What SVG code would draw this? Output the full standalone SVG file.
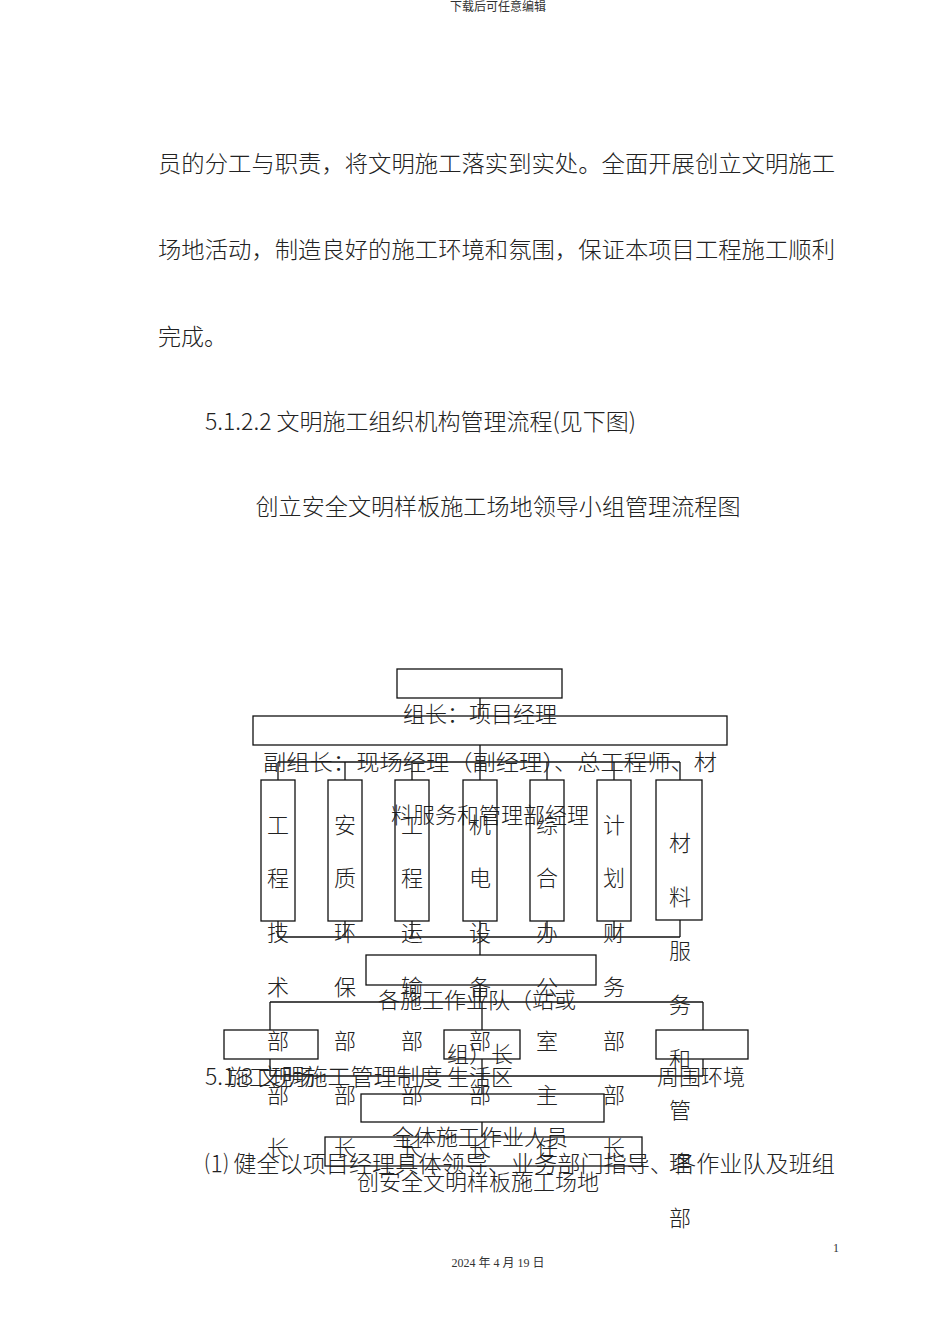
<svg xmlns="http://www.w3.org/2000/svg" width="950" height="1344" viewBox="0 0 950 1344">
<style>
.t{font-family:"Noto Sans CJK SC","Noto Sans",sans-serif;font-size:23px;fill:#222;font-weight:300}
.d{font-family:"Noto Sans CJK SC","Noto Sans",sans-serif;font-size:22px;fill:#222;font-weight:300}
.s{font-family:"Liberation Serif","Noto Sans CJK SC",serif;font-size:12px;fill:#333}
rect{fill:none;stroke:#111;stroke-width:1.3}
line{stroke:#111;stroke-width:1.3}
</style>
<rect x="0" y="0" width="950" height="1344" style="fill:#fff;stroke:none"/>
<text class="s" x="498" y="11" text-anchor="middle">下载后可任意编辑</text>
<text class="t" x="158" y="172" textLength="677" lengthAdjust="spacingAndGlyphs">员的分工与职责，将文明施工落实到实处。全面开展创立文明施工</text>
<text class="t" x="158" y="258" textLength="677" lengthAdjust="spacingAndGlyphs">场地活动，制造良好的施工环境和氛围，保证本项目工程施工顺利</text>
<text class="t" x="158" y="345">完成。</text>
<text class="t" x="205" y="430">5.1.2.2 文明施工组织机构管理流程(见下图)</text>
<text class="t" x="498" y="515" text-anchor="middle" textLength="485" lengthAdjust="spacingAndGlyphs">创立安全文明样板施工场地领导小组管理流程图</text>

<g id="connectors">
<line x1="480" y1="698" x2="480" y2="716"/>
<line x1="480" y1="745" x2="480" y2="762"/>
<line x1="278" y1="762" x2="680" y2="762"/>
<line x1="278" y1="762" x2="278" y2="780"/><line x1="345" y1="762" x2="345" y2="780"/>
<line x1="412" y1="762" x2="412" y2="780"/><line x1="480" y1="762" x2="480" y2="780"/>
<line x1="547" y1="762" x2="547" y2="780"/><line x1="614" y1="762" x2="614" y2="780"/>
<line x1="680" y1="762" x2="680" y2="780"/>
<line x1="278" y1="921" x2="278" y2="937"/><line x1="345" y1="921" x2="345" y2="937"/>
<line x1="412" y1="921" x2="412" y2="937"/><line x1="480" y1="921" x2="480" y2="937"/>
<line x1="547" y1="921" x2="547" y2="937"/><line x1="614" y1="921" x2="614" y2="937"/>
<line x1="680" y1="920" x2="680" y2="937"/>
<line x1="278" y1="937" x2="680" y2="937"/>
<line x1="480" y1="937" x2="480" y2="955"/>
<line x1="480" y1="985" x2="480" y2="1002"/>
<line x1="270" y1="1002" x2="703" y2="1002"/>
<line x1="270" y1="1002" x2="270" y2="1030"/><line x1="482" y1="1002" x2="482" y2="1030"/><line x1="703" y1="1002" x2="703" y2="1030"/>
<line x1="270" y1="1059" x2="270" y2="1076"/><line x1="482" y1="1059" x2="482" y2="1076"/><line x1="703" y1="1059" x2="703" y2="1076"/>
<line x1="270" y1="1076" x2="703" y2="1076"/>
<line x1="482" y1="1076" x2="482" y2="1094"/>
<line x1="482" y1="1122" x2="482" y2="1137"/>
</g>

<g id="n1"><rect x="397" y="669" width="165" height="29"/><text class="d" x="480" y="722" text-anchor="middle">组长：项目经理</text></g>
<g id="n2"><rect x="253" y="716" width="474" height="29"/>
<text class="d" x="263" y="770" textLength="454" lengthAdjust="spacingAndGlyphs">副组长：现场经理（副经理）、总工程师、材</text>
<text class="d" x="490" y="823" text-anchor="middle">料服务和管理部经理</text></g>

<g id="c1"><rect x="261" y="780" width="34" height="141"/><text class="d" x="278" text-anchor="middle"><tspan x="278" y="833">工</tspan><tspan x="278" y="886">程</tspan><tspan x="278" y="941">技</tspan><tspan x="278" y="995">术</tspan><tspan x="278" y="1049">部</tspan><tspan x="278" y="1103">部</tspan><tspan x="278" y="1156">长</tspan></text></g>
<g id="c2"><rect x="328" y="780" width="34" height="141"/><text class="d" text-anchor="middle"><tspan x="345" y="833">安</tspan><tspan x="345" y="886">质</tspan><tspan x="345" y="941">环</tspan><tspan x="345" y="995">保</tspan><tspan x="345" y="1049">部</tspan><tspan x="345" y="1103">部</tspan><tspan x="345" y="1156">长</tspan></text></g>
<g id="c3"><rect x="395" y="780" width="34" height="141"/><text class="d" text-anchor="middle"><tspan x="412" y="833">工</tspan><tspan x="412" y="886">程</tspan><tspan x="412" y="941">运</tspan><tspan x="412" y="995">输</tspan><tspan x="412" y="1049">部</tspan><tspan x="412" y="1103">部</tspan><tspan x="412" y="1156">长</tspan></text></g>
<g id="c4"><rect x="463" y="780" width="34" height="141"/><text class="d" text-anchor="middle"><tspan x="480" y="833">机</tspan><tspan x="480" y="886">电</tspan><tspan x="480" y="941">设</tspan><tspan x="480" y="995">备</tspan><tspan x="480" y="1049">部</tspan><tspan x="480" y="1103">部</tspan><tspan x="480" y="1156">长</tspan></text></g>
<g id="c5"><rect x="530" y="780" width="34" height="141"/><text class="d" text-anchor="middle"><tspan x="547" y="833">综</tspan><tspan x="547" y="886">合</tspan><tspan x="547" y="941">办</tspan><tspan x="547" y="995">公</tspan><tspan x="547" y="1049">室</tspan><tspan x="547" y="1103">主</tspan><tspan x="547" y="1156">任</tspan></text></g>
<g id="c6"><rect x="597" y="780" width="34" height="141"/><text class="d" text-anchor="middle"><tspan x="614" y="833">计</tspan><tspan x="614" y="886">划</tspan><tspan x="614" y="941">财</tspan><tspan x="614" y="995">务</tspan><tspan x="614" y="1049">部</tspan><tspan x="614" y="1103">部</tspan><tspan x="614" y="1156">长</tspan></text></g>
<g id="c7"><rect x="656" y="780" width="46" height="140"/><text class="d" text-anchor="middle"><tspan x="680" y="851">材</tspan><tspan x="680" y="905">料</tspan><tspan x="680" y="959">服</tspan><tspan x="680" y="1013">务</tspan><tspan x="680" y="1067">和</tspan><tspan x="680" y="1118">管</tspan><tspan x="680" y="1171">理</tspan><tspan x="680" y="1226">部</tspan></text></g>

<g id="n3"><rect x="366" y="955" width="230" height="30"/><text class="d" x="378" y="1008">各施工作业队（站或</text><text class="d" x="447" y="1062">组）长</text></g>
<g id="n4"><rect x="224" y="1030" width="94" height="29"/><text class="d" x="227" y="1085">施工现场</text></g>
<g id="n5"><rect x="444" y="1030" width="76" height="29"/><text class="d" x="447" y="1085">生活区</text></g>
<g id="n6"><rect x="656" y="1030" width="92" height="29"/><text class="d" x="657" y="1085">周围环境</text></g>
<g id="n7"><rect x="361" y="1094" width="243" height="28"/><text class="d" x="392" y="1145">全体施工作业人员</text></g>
<g id="n8"><rect x="325" y="1137" width="317" height="29"/><text class="d" x="357" y="1190">创安全文明样板施工场地</text></g>

<text class="t" x="205" y="1085">5.1.3 文明施工管理制度</text>
<text class="t" x="205" y="1172" textLength="630" lengthAdjust="spacingAndGlyphs">⑴ 健全以项目经理具体领导、业务部门指导、各作业队及班组</text>
<text class="s" x="833" y="1252">1</text>
<text class="s" x="498" y="1267" text-anchor="middle">2024 年 4 月 19 日</text>
</svg>
